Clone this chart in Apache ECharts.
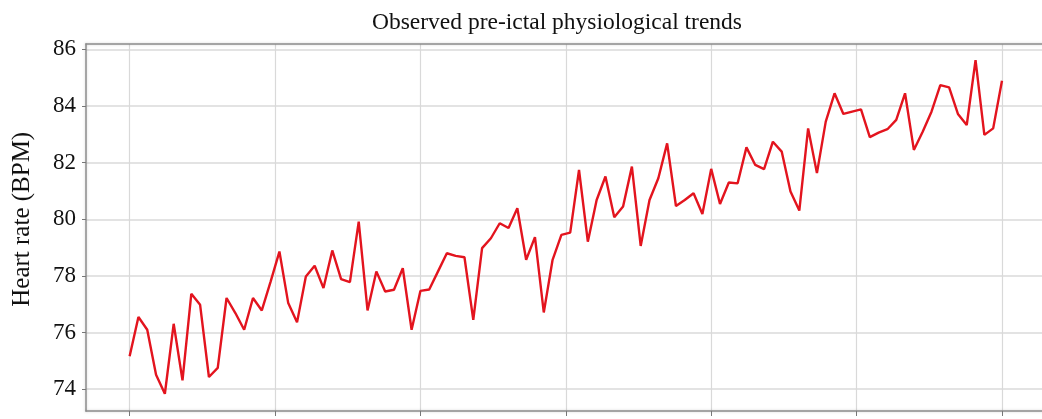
<!DOCTYPE html>
<html>
<head>
<meta charset="utf-8">
<title>Observed pre-ictal physiological trends</title>
<script src="https://cdn.jsdelivr.net/npm/echarts@6/dist/echarts.min.js"></script>
<style>
  html, body { margin: 0; padding: 0; background: #fff; }
  #chart { width: 1042px; height: 419px; }
</style>
</head>
<body>
<div id="chart"></div>
<script>
// Heart rate samples (BPM), one per time step
const heartRate = [
  75.16, 76.55, 76.10, 74.51, 73.84, 76.31, 74.31, 77.37, 76.98, 74.43,
  74.75, 77.22, 76.69, 76.10, 77.22, 76.78, 77.80, 78.86, 77.04, 76.36,
  77.98, 78.36, 77.57, 78.90, 77.89, 77.78, 79.92, 76.78, 78.16, 77.45,
  77.51, 78.27, 76.10, 77.47, 77.52, 78.16, 78.80, 78.71, 78.66, 76.45,
  78.98, 79.33, 79.86, 79.69, 80.39, 78.57, 79.37, 76.71, 78.57, 79.45,
  79.53, 81.74, 79.21, 80.68, 81.51, 80.07, 80.45, 81.86, 79.06, 80.68,
  81.45, 82.68, 80.47, 80.68, 80.92, 80.19, 81.78, 80.54, 81.30, 81.27,
  82.54, 81.92, 81.77, 82.74, 82.39, 80.98, 80.31, 83.21, 81.63, 83.45,
  84.45, 83.72, 83.80, 83.88, 82.90, 83.06, 83.18, 83.51, 84.45, 82.45,
  83.09, 83.80, 84.74, 84.66, 83.72, 83.33, 85.62, 82.98, 83.21, 84.89
];

// Y tick labels
const yTicks = [74, 76, 78, 80, 82, 84, 86];
// Vertical grid line spacing, in time steps
const xGridStep = 16.5;

const chartTitle = 'Observed pre-ictal physiological trends';
const yName = 'Heart rate (BPM)';

// ---- layout ----
const W = 1042, H = 419;
const frame = { left: 86, right: -3.6, top: 44, bottom: 8 };
const lastStep = heartRate.length - 1;
const xPad = lastStep * 0.05;            // 5% margin on both ends
const yView = [73.23, 86.19];            // visible value range of the frame

const frameW = W - frame.left - frame.right;
const frameH = H - frame.top - frame.bottom;
const pxPerStep = frameW / (lastStep + 2 * xPad);
const pxPerBpm = frameH / (yView[1] - yView[0]);

// data grid: x from 0 to lastStep, full frame height
const dataGrid = {
  left: frame.left + xPad * pxPerStep,
  right: frame.right + xPad * pxPerStep,
  top: frame.top,
  bottom: frame.bottom
};
// value grid: spans exactly from first to last y tick, full frame width
const tickGrid = {
  left: frame.left,
  right: frame.right,
  top: frame.top + (yView[1] - yTicks[yTicks.length - 1]) * pxPerBpm,
  bottom: frame.bottom + (yTicks[0] - yView[0]) * pxPerBpm
};

const serif = 'Liberation Serif, Times New Roman, serif';
const seriesData = heartRate.map((v, i) => [i, v]);
const frameLine = { show: true, onZero: false, lineStyle: { color: '#8c8c8c', width: 1.5,
  shadowColor: 'rgba(0,0,0,0.18)', shadowBlur: 3 } };
const bare = { axisTick: { show: false }, axisLabel: { show: false }, splitLine: { show: false } };

const chart = echarts.init(document.getElementById('chart'), null, { renderer: 'canvas' });
chart.setOption({
  animation: false,
  backgroundColor: '#ffffff',
  title: {
    text: chartTitle,
    left: 372,
    top: 11,
    padding: 0,
    textStyle: { fontFamily: serif, fontSize: 23.5, fontWeight: 'normal', color: '#111' }
  },
  grid: [
    Object.assign({ outerBoundsMode: 'none' }, frame),
    Object.assign({ outerBoundsMode: 'none' }, tickGrid),
    Object.assign({ outerBoundsMode: 'none' }, dataGrid)
  ],
  xAxis: [
    // top and bottom edges of the plot frame
    Object.assign({ gridIndex: 0, type: 'value', min: 0, max: 1, position: 'top', axisLine: frameLine }, bare),
    Object.assign({ gridIndex: 0, type: 'value', min: 0, max: 1, position: 'bottom', axisLine: frameLine }, bare),
    { gridIndex: 1, type: 'value', min: 0, max: 1, show: false },
    {
      gridIndex: 2, type: 'value', min: 0, max: lastStep, interval: xGridStep,
      axisLine: { show: false },
      axisTick: { show: true, length: 5, lineStyle: { color: '#777', width: 1 } },
      axisLabel: { show: false },
      splitLine: { show: true, lineStyle: { color: '#d9d9d9', width: 1.2 } }
    }
  ],
  yAxis: [
    // left edge of the plot frame
    Object.assign({ gridIndex: 0, type: 'value', min: 0, max: 1, position: 'left', axisLine: frameLine }, bare),
    {
      gridIndex: 1, type: 'value',
      min: yTicks[0], max: yTicks[yTicks.length - 1], interval: yTicks[1] - yTicks[0],
      name: yName,
      nameLocation: 'middle',
      nameGap: 51,
      nameTextStyle: { fontFamily: serif, fontSize: 25, color: '#111' },
      axisLine: { show: false },
      axisTick: { show: true, length: 4, lineStyle: { color: '#777', width: 1 } },
      axisLabel: { margin: 10, fontFamily: serif, fontSize: 23, color: '#111' },
      splitLine: { show: true, lineStyle: { color: '#e3e3e3', width: 2 } }
    },
    {
      gridIndex: 2, type: 'value', min: yView[0], max: yView[1],
      axisLine: { show: false }, axisTick: { show: false },
      axisLabel: { show: false }, splitLine: { show: false }
    }
  ],
  series: [{
    type: 'line',
    xAxisIndex: 3,
    yAxisIndex: 2,
    data: seriesData,
    showSymbol: false,
    symbol: 'none',
    lineStyle: { color: '#e3141e', width: 2.4 },
    z: 5
  }]
});
</script>
</body>
</html>
